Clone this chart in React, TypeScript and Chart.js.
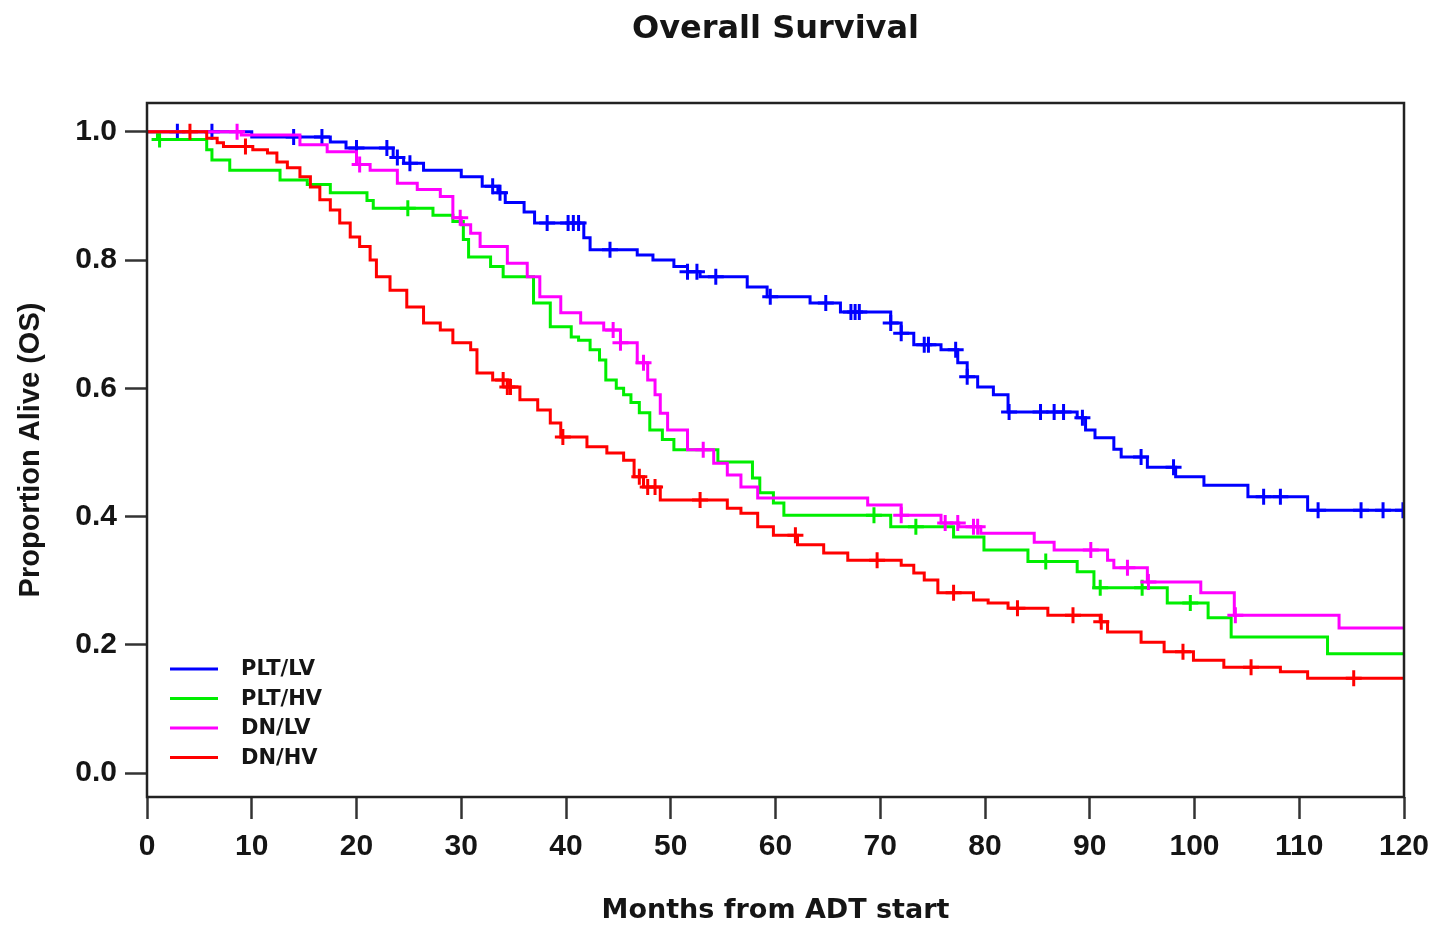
import { useEffect, useRef } from 'react';
import { Chart, registerables } from 'chart.js';

Chart.register(...registerables);

// ---- Data ----
const chartTitle = 'Overall Survival';
const xAxisTitle = 'Months from ADT start';
const yAxisTitle = 'Proportion Alive (OS)';
const xTickValues = [0, 10, 20, 30, 40, 50, 60, 70, 80, 90, 100, 110, 120];
const yTickValues = [0, 0.2, 0.4, 0.6, 0.8, 1.0];
const seriesNames = ['PLT/LV', 'PLT/HV', 'DN/LV', 'DN/HV'];
const seriesColors = ['#0000ff', '#00ee00', '#ff00ff', '#ff0000'];

const pltLvTimes = [10, 17.5, 19, 23.5, 24.5, 26.4, 30, 32, 33.5, 34.2, 36, 37, 41.7, 42.3, 46.8, 48.3, 50.3, 51.6, 52.8, 57.3, 59.2, 63.3, 66.2, 71, 72, 73.2, 75.8, 77.4, 78.3, 79.3, 80.8, 82.2, 88.8, 89.6, 90.5, 92.3, 93, 95.5, 98.2, 100.9, 105.1, 110.8];
const pltLvSurv = [0.992, 0.984, 0.975, 0.96, 0.951, 0.94, 0.93, 0.915, 0.905, 0.89, 0.875, 0.858, 0.835, 0.816, 0.808, 0.8, 0.79, 0.782, 0.774, 0.758, 0.743, 0.733, 0.719, 0.702, 0.686, 0.668, 0.66, 0.64, 0.618, 0.602, 0.59, 0.563, 0.554, 0.535, 0.523, 0.505, 0.493, 0.477, 0.462, 0.449, 0.431, 0.41];
const pltLvCensor = [2.9, 6.2, 14, 16.7, 20, 22.9, 23.9, 25.1, 33, 33.7, 38.2, 40.2, 40.7, 41.2, 44.2, 51.6, 52.5, 54.3, 59.5, 64.8, 67.2, 67.6, 68, 71, 72, 74.2, 74.6, 77.2, 78.3, 82.3, 85.3, 86.6, 87.5, 89.3, 94.9, 98, 106.6, 108.2, 111.8, 115.9, 118, 119.9];

const pltHvTimes = [1, 5.7, 6.2, 7.9, 12.7, 15.3, 17.5, 21, 21.6, 27.3, 29.2, 30.2, 30.7, 32.8, 34, 36.9, 38.5, 40.5, 41.2, 42.3, 43.2, 43.8, 44.8, 45.5, 46.2, 47, 48, 49.2, 50.3, 54.5, 57.8, 58.5, 59.8, 60.8, 71, 77, 79.9, 84.1, 88.8, 90.4, 97.4, 101.3, 103.5, 112.7];
const pltHvSurv = [0.988, 0.972, 0.956, 0.94, 0.925, 0.918, 0.905, 0.893, 0.881, 0.87, 0.86, 0.832, 0.805, 0.79, 0.774, 0.733, 0.696, 0.68, 0.675, 0.66, 0.644, 0.613, 0.6, 0.59, 0.578, 0.562, 0.535, 0.52, 0.504, 0.485, 0.46, 0.437, 0.421, 0.402, 0.384, 0.368, 0.348, 0.33, 0.314, 0.289, 0.265, 0.242, 0.212, 0.186];
const pltHvCensor = [1.2, 24.9, 69.4, 73.4, 85.8, 91, 95, 99.6];

const dnLvTimes = [9, 14.6, 17.2, 20, 21.3, 23.9, 25.8, 28, 29.2, 30, 30.9, 31.8, 34.4, 36.3, 37.5, 39.5, 41.4, 43.6, 45.2, 46.8, 47.8, 48.5, 49, 49.7, 51.6, 54.1, 55.4, 56.7, 58.3, 68.8, 72, 75.8, 77.5, 79.6, 84.7, 86.6, 91.7, 92.3, 95.5, 100.6, 103.8, 113.8];
const dnLvSurv = [0.995, 0.98, 0.969, 0.949, 0.94, 0.92, 0.91, 0.899, 0.866, 0.855, 0.842, 0.821, 0.795, 0.774, 0.743, 0.718, 0.702, 0.691, 0.671, 0.64, 0.613, 0.59, 0.561, 0.535, 0.504, 0.483, 0.465, 0.446, 0.429, 0.418, 0.402, 0.39, 0.384, 0.374, 0.36, 0.348, 0.332, 0.32, 0.298, 0.281, 0.246, 0.226];
const dnLvCensor = [8.6, 20.3, 29.9, 44.5, 45.2, 47.4, 53.1, 72, 76.2, 77.4, 78.9, 79.3, 90.1, 93.6, 95.6, 103.9];

const dnHvTimes = [5.7, 6.7, 7.3, 10.1, 11.5, 12.4, 13.4, 14.6, 15.6, 16.5, 17.5, 18.4, 19.4, 20.3, 21.3, 21.9, 23.2, 24.8, 26.4, 28, 29.2, 30.9, 31.5, 33, 34.4, 35.6, 37.3, 38.5, 39.5, 42, 43.9, 45.5, 46.5, 47.4, 49, 55.4, 56.7, 58.3, 59.8, 62.1, 64.6, 66.9, 72, 73.2, 74.2, 75.5, 78.9, 80.3, 82.2, 86, 91, 91.7, 94.9, 97.1, 99.9, 102.8, 108.2, 110.8];
const dnHvSurv = [0.99, 0.983, 0.977, 0.972, 0.967, 0.953, 0.944, 0.93, 0.914, 0.894, 0.878, 0.858, 0.836, 0.821, 0.8, 0.774, 0.753, 0.727, 0.702, 0.691, 0.671, 0.66, 0.624, 0.613, 0.602, 0.582, 0.566, 0.546, 0.524, 0.509, 0.499, 0.488, 0.462, 0.446, 0.426, 0.413, 0.405, 0.384, 0.371, 0.356, 0.343, 0.332, 0.324, 0.312, 0.301, 0.281, 0.27, 0.265, 0.257, 0.246, 0.236, 0.22, 0.204, 0.189, 0.176, 0.165, 0.158, 0.148];
const dnHvCensor = [4.1, 9.4, 34, 34.4, 34.7, 39.7, 47, 47.8, 48.5, 52.8, 61.9, 69.7, 77, 83.1, 88.4, 91.1, 98.9, 105.4, 115.2];

const X_MIN = 0;
const X_MAX = 120;

const allTimes = [pltLvTimes, pltHvTimes, dnLvTimes, dnHvTimes];
const allSurv = [pltLvSurv, pltHvSurv, dnLvSurv, dnHvSurv];
const allCensor = [pltLvCensor, pltHvCensor, dnLvCensor, dnHvCensor];

const TEXT_COLOR = '#151515';

function stepValue(times: number[], surv: number[], t: number): number {
  let v = 1;
  for (let i = 0; i < times.length; i++) {
    if (times[i] <= t) v = surv[i];
    else break;
  }
  return v;
}

function curvePoints(times: number[], surv: number[]) {
  const pts = [{ x: X_MIN, y: 1 }];
  times.forEach((t, i) => pts.push({ x: t, y: surv[i] }));
  pts.push({ x: X_MAX, y: surv[surv.length - 1] });
  return pts;
}

function censorPoints(times: number[], surv: number[], cens: number[]) {
  return cens.map((t) => ({ x: t, y: stepValue(times, surv, t) }));
}

const frameLegendTitle = {
  id: 'frameLegendTitle',
  afterDatasetsDraw(chart: any) {
    const { ctx, chartArea } = chart;
    const { left, top, right, bottom } = chartArea;
    ctx.save();
    // frame
    ctx.strokeStyle = '#222';
    ctx.lineWidth = 2.5;
    ctx.strokeRect(left, top, right - left, bottom - top);
    // legend
    seriesNames.forEach((name, i) => {
      const y = bottom - 128 + i * 29.5;
      ctx.strokeStyle = seriesColors[i];
      ctx.lineWidth = 3;
      ctx.beginPath();
      ctx.moveTo(left + 23, y);
      ctx.lineTo(left + 71, y);
      ctx.stroke();
      ctx.fillStyle = TEXT_COLOR;
      ctx.font = 'bold 21px "DejaVu Sans"';
      ctx.textAlign = 'left';
      ctx.textBaseline = 'middle';
      ctx.fillText(name, left + 94, y + 1);
    });
    // title centred over the plot area
    ctx.fillStyle = TEXT_COLOR;
    ctx.font = 'bold 32px "DejaVu Sans"';
    ctx.textAlign = 'center';
    ctx.textBaseline = 'middle';
    ctx.fillText(chartTitle, (left + right) / 2, 30);
    ctx.restore();
  },
};

export default function App() {
  const ref = useRef<HTMLCanvasElement>(null);

  useEffect(() => {
    if (!ref.current) return;
    const datasets: any[] = [];
    const orders = [4, 3, 2, 1];
    seriesNames.forEach((name, i) => {
      datasets.push({
        type: 'line',
        label: name,
        data: curvePoints(allTimes[i], allSurv[i]),
        borderColor: seriesColors[i],
        backgroundColor: seriesColors[i],
        borderWidth: 3,
        pointRadius: 0,
        stepped: 'before',
        fill: false,
        order: orders[i],
      });
      datasets.push({
        type: 'scatter',
        label: name + ' censored',
        data: censorPoints(allTimes[i], allSurv[i], allCensor[i]),
        borderColor: seriesColors[i],
        backgroundColor: seriesColors[i],
        pointStyle: 'cross',
        pointRadius: 8,
        pointBorderWidth: 3,
        borderWidth: 3,
        showLine: false,
        order: orders[i],
      });
    });

    const chart = new Chart(ref.current, {
      type: 'line',
      data: { datasets },
      plugins: [frameLegendTitle],
      options: {
        animation: false,
        responsive: true,
        maintainAspectRatio: false,
        layout: { padding: { left: 0, right: 31, top: 103, bottom: 0 } },
        plugins: {
          legend: { display: false },
          tooltip: { enabled: false },
          title: { display: false },
        },
        scales: {
          x: {
            type: 'linear',
            min: X_MIN,
            max: X_MAX,
            afterBuildTicks: (axis: any) => {
              axis.ticks = xTickValues.map((v) => ({ value: v }));
            },
            afterFit: (axis: any) => {
              axis.height = 130;
              axis.paddingLeft = 0;
              axis.paddingRight = 0;
            },
            ticks: {
              color: TEXT_COLOR,
              font: { family: '"Liberation Sans", Arial, sans-serif', size: 30, weight: 'bold', lineHeight: 1.2 },
              padding: 10,
              maxRotation: 0,
              autoSkip: false,
              callback: (v: any) => String(v),
            },
            grid: {
              display: true,
              drawOnChartArea: false,
              drawTicks: true,
              tickLength: 22,
              tickWidth: 2.5,
              tickColor: '#333',
            },
            border: { display: false },
            title: {
              display: true,
              text: xAxisTitle,
              color: TEXT_COLOR,
              font: { family: '"DejaVu Sans"', size: 27, weight: 'bold', lineHeight: 1.2 },
              padding: { top: 0, bottom: 0 },
            },
          },
          y: {
            type: 'linear',
            min: -0.0374,
            max: 1.045,
            afterBuildTicks: (axis: any) => {
              axis.ticks = yTickValues.map((v) => ({ value: v }));
            },
            afterFit: (axis: any) => {
              axis.width = 147;
              axis.paddingTop = 0;
              axis.paddingBottom = 0;
            },
            ticks: {
              color: TEXT_COLOR,
              font: { family: '"Liberation Sans", Arial, sans-serif', size: 30, weight: 'bold', lineHeight: 1.2 },
              padding: 8,
              autoSkip: false,
              callback: (v: any) => Number(v).toFixed(1),
            },
            grid: {
              display: true,
              drawOnChartArea: false,
              drawTicks: true,
              tickLength: 22,
              tickWidth: 2.5,
              tickColor: '#333',
            },
            border: { display: false },
            title: {
              display: true,
              text: yAxisTitle,
              color: TEXT_COLOR,
              font: { family: '"Liberation Sans", Arial, sans-serif', size: 29, weight: 'bold', lineHeight: 1.2 },
              padding: { top: 14, bottom: 0 },
            },
          },
        },
      } as any,
    } as any);

    return () => chart.destroy();
  }, []);

  return (
    <div style={{ position: 'fixed', left: 0, top: 0, width: 1435, height: 927, background: '#fff', overflow: 'hidden' }}>
      <canvas ref={ref} style={{ display: 'block' }} />
    </div>
  );
}
